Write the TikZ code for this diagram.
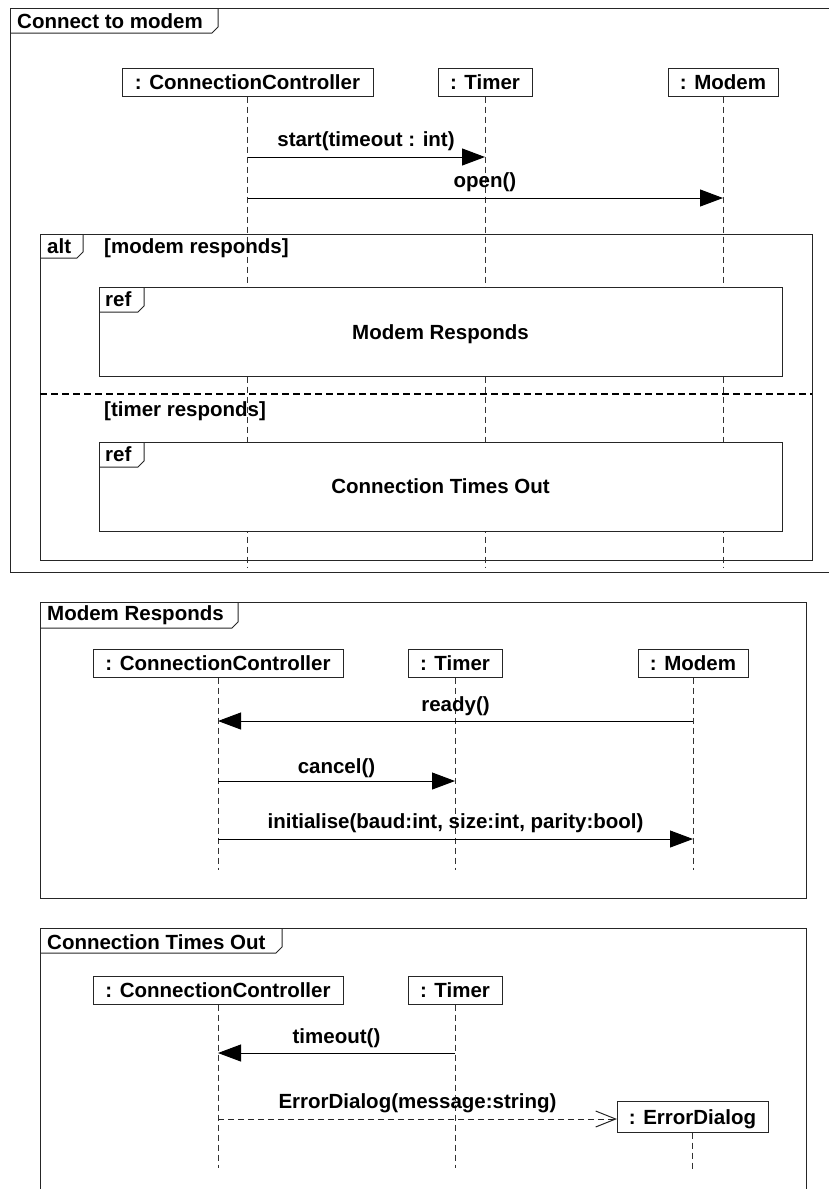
\documentclass[tikz,border=0pt]{standalone}
\usepackage{fontspec}
\setmainfont{Liberation Sans}
\usetikzlibrary{arrows.meta}
\begin{document}
\begin{tikzpicture}[x=1pt,y=-1pt,
  every node/.style={font=\fontsize{20.5}{24}\selectfont\bfseries, inner sep=0pt},
  frameline/.style={draw=black!85, line width=1pt},
  reffill/.style={draw=black!85, line width=1pt, fill=white},
  obj/.style={draw=black!85, line width=1pt, fill=white, minimum height=28pt, text height=15pt, text depth=0pt},
  lifeline/.style={draw=black!80, line width=1pt, dash pattern=on 6pt off 4pt},
  msg/.style={draw=black, line width=1pt, -{Triangle[length=23pt,width=17pt]}},
  reply/.style={draw=black!85, line width=1pt, dash pattern=on 6pt off 4pt, -{Straight Barb[length=20pt,width=16pt,line width=1pt]}},
  sepline/.style={draw=black, line width=2.4pt, dash pattern=on 7pt off 4pt},
  lbl/.style={anchor=base},
  ttl/.style={anchor=base west}]
\useasboundingbox (0,0) rectangle (829,1189);

% ================= Frame 1 =================
\draw[frameline] (829,8) -- (10,8) -- (10,572) -- (829,572);
\draw[frameline] (10,33) -- (212,33) -- (218,27) -- (218,8);
\node[ttl] (t1) at (17,28) {Connect to modem};

\node[obj, minimum width=251pt] (cc1) at (247.5,82) {: ConnectionController};
\node[obj, minimum width=94pt] (tm1) at (485,82) {: Timer};
\node[obj, minimum width=110pt] (md1) at (723,82) {: Modem};
\coordinate (cc1e) at (247.5,567);
\coordinate (tm1e) at (485,567);
\coordinate (md1e) at (723,567);
\draw[lifeline] (cc1) -- (cc1e);
\draw[lifeline] (tm1) -- (tm1e);
\draw[lifeline] (md1) -- (md1e);

\coordinate (m1a) at (247.5,157);
\coordinate (m1b) at (485,157);
\draw[msg] (m1a) -- (m1b);
\node[lbl] (m1l) at (366,146) {start(timeout : int)};
\coordinate (m2a) at (247.5,198);
\coordinate (m2b) at (723,198);
\draw[msg] (m2a) -- (m2b);
\node[lbl] (m2l) at (485,187) {open()};

% alt fragment
\draw[frameline] (40,234) rectangle (812,560);
\draw[frameline] (40,258) -- (77,258) -- (83,252) -- (83,234);
\node[ttl] (altl) at (47,253) {alt};
\node[ttl] (g1) at (104,253) {[modem responds]};

\draw[reffill] (99,287) rectangle (782,376);
\draw[frameline] (99,312) -- (138,312) -- (144,306) -- (144,287);
\node[ttl] (r1) at (105,306) {ref};
\node[lbl] (r1t) at (440.5,339) {Modem Responds};

\draw[sepline] (40,394) -- (812,394);
\node[ttl] (g2) at (104,416) {[timer responds]};

\draw[reffill] (99,442) rectangle (782,531);
\draw[frameline] (99,467) -- (138,467) -- (144,461) -- (144,442);
\node[ttl] (r2) at (105,461) {ref};
\node[lbl] (r2t) at (440.5,493) {Connection Times Out};

% ================= Frame 2 =================
\draw[frameline] (40,602) rectangle (806,898);
\draw[frameline] (40,628) -- (232,628) -- (238,622) -- (238,602);
\node[ttl] (t2) at (47,620) {Modem Responds};

\node[obj, minimum width=250pt] (cc2) at (218,663) {: ConnectionController};
\node[obj, minimum width=94pt] (tm2) at (455,663) {: Timer};
\node[obj, minimum width=110pt] (md2) at (693,663) {: Modem};
\coordinate (cc2e) at (218,870);
\coordinate (tm2e) at (455,870);
\coordinate (md2e) at (693,870);
\draw[lifeline] (cc2) -- (cc2e);
\draw[lifeline] (tm2) -- (tm2e);
\draw[lifeline] (md2) -- (md2e);

\coordinate (m3a) at (693,721);
\coordinate (m3b) at (218,721);
\draw[msg] (m3a) -- (m3b);
\node[lbl] (m3l) at (455.5,711) {ready()};
\coordinate (m4a) at (218,781);
\coordinate (m4b) at (455,781);
\draw[msg] (m4a) -- (m4b);
\node[lbl] (m4l) at (336.5,773) {cancel()};
\coordinate (m5a) at (218,839);
\coordinate (m5b) at (693,839);
\draw[msg] (m5a) -- (m5b);
\node[lbl] (m5l) at (455.5,828) {initialise(baud:int, size:int, parity:bool)};

% ================= Frame 3 =================
\draw[frameline] (40,1190) -- (40,928) -- (806,928) -- (806,1190);
\draw[frameline] (40,953) -- (276,953) -- (282,947) -- (282,928);
\node[ttl] (t3) at (47,949) {Connection Times Out};

\node[obj, minimum width=250pt] (cc3) at (218,990) {: ConnectionController};
\node[obj, minimum width=94pt] (tm3) at (455,990) {: Timer};
\node[obj, minimum width=151pt, minimum height=31pt] (ed) at (692.5,1116.5) {: ErrorDialog};
\coordinate (cc3e) at (218,1168);
\coordinate (tm3e) at (455,1168);
\coordinate (ede) at (692.5,1170);
\draw[lifeline] (cc3) -- (cc3e);
\draw[lifeline] (tm3) -- (tm3e);
\draw[lifeline] (ed) -- (ede);

\coordinate (m6a) at (455,1053);
\coordinate (m6b) at (218,1053);
\draw[msg] (m6a) -- (m6b);
\node[lbl] (m6l) at (336.5,1043) {timeout()};
\coordinate (m7a) at (218,1119);
\coordinate (m7b) at (617,1119);
\draw[reply] (m7a) -- (m7b);
\node[lbl] (m7l) at (417.5,1108) {ErrorDialog(message:string)};
\end{tikzpicture}
\end{document}
